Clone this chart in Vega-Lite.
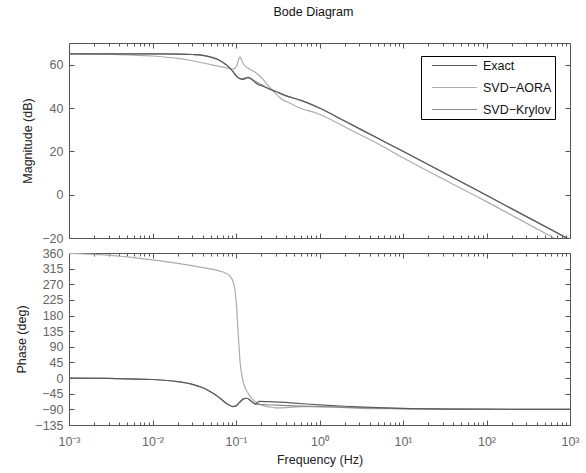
{
  "$schema": "https://vega.github.io/schema/vega-lite/v6.json",
  "background": "white",
  "padding": {"left": 15, "top": 6, "right": 5, "bottom": 5},
  "title": {"text": "Bode Diagram", "fontSize": 12.5, "fontWeight": "normal", "font": "Liberation Sans", "color": "#111", "anchor": "middle", "offset": 23.5, "dx": 16},
  "config": {
    "font": "Liberation Sans",
    "view": {"stroke": "#555", "strokeWidth": 1},
    "axis": {"grid": false, "domain": false, "labelFont": "Liberation Sans", "labelFontSize": 12.5, "labelColor": "#666", "titleFont": "Liberation Sans", "titleFontSize": 12.5, "titleFontWeight": "normal", "titleColor": "#222", "tickColor": "#555", "tickWidth": 1, "labelFlush": false, "labelOverlap": false}
  },
  "datasets": {
    "mag": [
      {"f": 0.001, "s": "SVD−AORA", "v": 65.0},
      {"f": 0.002, "s": "SVD−AORA", "v": 64.9},
      {"f": 0.005, "s": "SVD−AORA", "v": 64.5},
      {"f": 0.01, "s": "SVD−AORA", "v": 64.0},
      {"f": 0.02, "s": "SVD−AORA", "v": 62.9},
      {"f": 0.03, "s": "SVD−AORA", "v": 61.8},
      {"f": 0.05, "s": "SVD−AORA", "v": 60.0},
      {"f": 0.075, "s": "SVD−AORA", "v": 58.6},
      {"f": 0.09, "s": "SVD−AORA", "v": 58.0},
      {"f": 0.097, "s": "SVD−AORA", "v": 58.3},
      {"f": 0.103, "s": "SVD−AORA", "v": 60.0},
      {"f": 0.108, "s": "SVD−AORA", "v": 62.5},
      {"f": 0.112, "s": "SVD−AORA", "v": 63.6},
      {"f": 0.116, "s": "SVD−AORA", "v": 62.4},
      {"f": 0.122, "s": "SVD−AORA", "v": 60.5},
      {"f": 0.13, "s": "SVD−AORA", "v": 59.2},
      {"f": 0.145, "s": "SVD−AORA", "v": 58.0},
      {"f": 0.165, "s": "SVD−AORA", "v": 56.8},
      {"f": 0.19, "s": "SVD−AORA", "v": 55.0},
      {"f": 0.21, "s": "SVD−AORA", "v": 53.3},
      {"f": 0.24, "s": "SVD−AORA", "v": 50.5},
      {"f": 0.27, "s": "SVD−AORA", "v": 48.4},
      {"f": 0.3, "s": "SVD−AORA", "v": 46.5},
      {"f": 0.35, "s": "SVD−AORA", "v": 44.2},
      {"f": 0.44, "s": "SVD−AORA", "v": 42.3},
      {"f": 0.58, "s": "SVD−AORA", "v": 40.0},
      {"f": 0.93, "s": "SVD−AORA", "v": 37.6},
      {"f": 2.32, "s": "SVD−AORA", "v": 30.0},
      {"f": 5, "s": "SVD−AORA", "v": 23.5},
      {"f": 10, "s": "SVD−AORA", "v": 17.0},
      {"f": 100, "s": "SVD−AORA", "v": -3.2},
      {"f": 1000, "s": "SVD−AORA", "v": -24.0},
      {"f": 0.001, "s": "SVD−Krylov", "v": 65.0},
      {"f": 0.01, "s": "SVD−Krylov", "v": 65.0},
      {"f": 0.02, "s": "SVD−Krylov", "v": 64.9},
      {"f": 0.03, "s": "SVD−Krylov", "v": 64.7},
      {"f": 0.04, "s": "SVD−Krylov", "v": 64.3},
      {"f": 0.05, "s": "SVD−Krylov", "v": 63.5},
      {"f": 0.06, "s": "SVD−Krylov", "v": 62.5},
      {"f": 0.07, "s": "SVD−Krylov", "v": 61.0},
      {"f": 0.08, "s": "SVD−Krylov", "v": 59.3},
      {"f": 0.09, "s": "SVD−Krylov", "v": 57.2},
      {"f": 0.1, "s": "SVD−Krylov", "v": 55.0},
      {"f": 0.11, "s": "SVD−Krylov", "v": 53.6},
      {"f": 0.12, "s": "SVD−Krylov", "v": 53.5},
      {"f": 0.14, "s": "SVD−Krylov", "v": 54.3},
      {"f": 0.16, "s": "SVD−Krylov", "v": 53.0},
      {"f": 0.2, "s": "SVD−Krylov", "v": 50.8},
      {"f": 0.25, "s": "SVD−Krylov", "v": 48.8},
      {"f": 0.3, "s": "SVD−Krylov", "v": 47.6},
      {"f": 0.4, "s": "SVD−Krylov", "v": 45.6},
      {"f": 0.6, "s": "SVD−Krylov", "v": 43.5},
      {"f": 1, "s": "SVD−Krylov", "v": 40.0},
      {"f": 2, "s": "SVD−Krylov", "v": 34.0},
      {"f": 5, "s": "SVD−Krylov", "v": 26.0},
      {"f": 10, "s": "SVD−Krylov", "v": 20.0},
      {"f": 100, "s": "SVD−Krylov", "v": -0.3},
      {"f": 1000, "s": "SVD−Krylov", "v": -20.8},
      {"f": 0.001, "s": "Exact", "v": 65.0},
      {"f": 0.01, "s": "Exact", "v": 65.0},
      {"f": 0.02, "s": "Exact", "v": 64.9},
      {"f": 0.03, "s": "Exact", "v": 64.7},
      {"f": 0.04, "s": "Exact", "v": 64.3},
      {"f": 0.05, "s": "Exact", "v": 63.5},
      {"f": 0.06, "s": "Exact", "v": 62.5},
      {"f": 0.07, "s": "Exact", "v": 61.0},
      {"f": 0.08, "s": "Exact", "v": 59.3},
      {"f": 0.09, "s": "Exact", "v": 57.2},
      {"f": 0.1, "s": "Exact", "v": 55.0},
      {"f": 0.11, "s": "Exact", "v": 53.6},
      {"f": 0.12, "s": "Exact", "v": 53.2},
      {"f": 0.13, "s": "Exact", "v": 53.6},
      {"f": 0.14, "s": "Exact", "v": 53.9},
      {"f": 0.15, "s": "Exact", "v": 53.5},
      {"f": 0.165, "s": "Exact", "v": 52.2},
      {"f": 0.18, "s": "Exact", "v": 51.0},
      {"f": 0.2, "s": "Exact", "v": 50.4},
      {"f": 0.25, "s": "Exact", "v": 48.8},
      {"f": 0.3, "s": "Exact", "v": 47.6},
      {"f": 0.4, "s": "Exact", "v": 45.6},
      {"f": 0.6, "s": "Exact", "v": 43.5},
      {"f": 1, "s": "Exact", "v": 40.0},
      {"f": 2, "s": "Exact", "v": 34.0},
      {"f": 5, "s": "Exact", "v": 26.0},
      {"f": 10, "s": "Exact", "v": 20.0},
      {"f": 100, "s": "Exact", "v": -0.3},
      {"f": 1000, "s": "Exact", "v": -20.8}
    ],
    "phase": [
      {"f": 0.001, "s": "SVD−AORA", "v": 359},
      {"f": 0.002, "s": "SVD−AORA", "v": 356},
      {"f": 0.005, "s": "SVD−AORA", "v": 349},
      {"f": 0.01, "s": "SVD−AORA", "v": 340},
      {"f": 0.02, "s": "SVD−AORA", "v": 330},
      {"f": 0.04, "s": "SVD−AORA", "v": 318},
      {"f": 0.06, "s": "SVD−AORA", "v": 310},
      {"f": 0.075, "s": "SVD−AORA", "v": 302},
      {"f": 0.085, "s": "SVD−AORA", "v": 293},
      {"f": 0.092, "s": "SVD−AORA", "v": 278},
      {"f": 0.097, "s": "SVD−AORA", "v": 255},
      {"f": 0.101, "s": "SVD−AORA", "v": 215},
      {"f": 0.105, "s": "SVD−AORA", "v": 150},
      {"f": 0.108, "s": "SVD−AORA", "v": 100},
      {"f": 0.112, "s": "SVD−AORA", "v": 45},
      {"f": 0.118, "s": "SVD−AORA", "v": 5},
      {"f": 0.125, "s": "SVD−AORA", "v": -20},
      {"f": 0.135, "s": "SVD−AORA", "v": -38},
      {"f": 0.15, "s": "SVD−AORA", "v": -55},
      {"f": 0.17, "s": "SVD−AORA", "v": -68},
      {"f": 0.2, "s": "SVD−AORA", "v": -77},
      {"f": 0.25, "s": "SVD−AORA", "v": -83},
      {"f": 0.3, "s": "SVD−AORA", "v": -85.5},
      {"f": 0.4, "s": "SVD−AORA", "v": -85},
      {"f": 0.6, "s": "SVD−AORA", "v": -82},
      {"f": 1, "s": "SVD−AORA", "v": -82.5},
      {"f": 2, "s": "SVD−AORA", "v": -85},
      {"f": 3, "s": "SVD−AORA", "v": -87},
      {"f": 10, "s": "SVD−AORA", "v": -88.5},
      {"f": 100, "s": "SVD−AORA", "v": -89.6},
      {"f": 1000, "s": "SVD−AORA", "v": -90},
      {"f": 0.001, "s": "SVD−Krylov", "v": 0},
      {"f": 0.003, "s": "SVD−Krylov", "v": -1},
      {"f": 0.01, "s": "SVD−Krylov", "v": -4},
      {"f": 0.02, "s": "SVD−Krylov", "v": -10},
      {"f": 0.03, "s": "SVD−Krylov", "v": -18},
      {"f": 0.04, "s": "SVD−Krylov", "v": -28},
      {"f": 0.05, "s": "SVD−Krylov", "v": -40},
      {"f": 0.06, "s": "SVD−Krylov", "v": -52},
      {"f": 0.07, "s": "SVD−Krylov", "v": -65},
      {"f": 0.08, "s": "SVD−Krylov", "v": -76},
      {"f": 0.092, "s": "SVD−Krylov", "v": -82},
      {"f": 0.1, "s": "SVD−Krylov", "v": -80},
      {"f": 0.11, "s": "SVD−Krylov", "v": -70},
      {"f": 0.125, "s": "SVD−Krylov", "v": -59},
      {"f": 0.135, "s": "SVD−Krylov", "v": -58},
      {"f": 0.15, "s": "SVD−Krylov", "v": -65},
      {"f": 0.17, "s": "SVD−Krylov", "v": -75},
      {"f": 0.2, "s": "SVD−Krylov", "v": -76},
      {"f": 0.3, "s": "SVD−Krylov", "v": -78},
      {"f": 0.5, "s": "SVD−Krylov", "v": -80},
      {"f": 1, "s": "SVD−Krylov", "v": -82},
      {"f": 2, "s": "SVD−Krylov", "v": -84},
      {"f": 5, "s": "SVD−Krylov", "v": -86.5},
      {"f": 10, "s": "SVD−Krylov", "v": -88},
      {"f": 100, "s": "SVD−Krylov", "v": -89.6},
      {"f": 1000, "s": "SVD−Krylov", "v": -90},
      {"f": 0.001, "s": "Exact", "v": 0},
      {"f": 0.003, "s": "Exact", "v": -1},
      {"f": 0.01, "s": "Exact", "v": -4},
      {"f": 0.02, "s": "Exact", "v": -10},
      {"f": 0.03, "s": "Exact", "v": -18},
      {"f": 0.04, "s": "Exact", "v": -28},
      {"f": 0.05, "s": "Exact", "v": -40},
      {"f": 0.06, "s": "Exact", "v": -52},
      {"f": 0.07, "s": "Exact", "v": -65},
      {"f": 0.08, "s": "Exact", "v": -76},
      {"f": 0.092, "s": "Exact", "v": -82},
      {"f": 0.1, "s": "Exact", "v": -80},
      {"f": 0.11, "s": "Exact", "v": -70},
      {"f": 0.125, "s": "Exact", "v": -59},
      {"f": 0.135, "s": "Exact", "v": -58},
      {"f": 0.15, "s": "Exact", "v": -65},
      {"f": 0.17, "s": "Exact", "v": -74},
      {"f": 0.19, "s": "Exact", "v": -67},
      {"f": 0.25, "s": "Exact", "v": -68},
      {"f": 0.5, "s": "Exact", "v": -72},
      {"f": 1, "s": "Exact", "v": -77},
      {"f": 2, "s": "Exact", "v": -81},
      {"f": 5, "s": "Exact", "v": -85},
      {"f": 10, "s": "Exact", "v": -87},
      {"f": 100, "s": "Exact", "v": -89.5},
      {"f": 1000, "s": "Exact", "v": -90}
    ]
  },
  "spacing": 1,
  "resolve": {"legend": {"color": "independent"}},
  "vconcat": [
    {
      "width": 501,
      "height": 195,
      "data": {"name": "mag"},
      "resolve": {"axis": {"x": "independent", "y": "independent"}},
      "layer": [
        {
          "mark": {"type": "line", "strokeWidth": 1.2, "clip": true, "interpolate": "monotone"},
          "encoding": {
            "x": {"field": "f", "type": "quantitative", "scale": {"type": "log", "domain": [0.001, 1000]},
              "axis": {"orient": "bottom", "title": null, "labels": false,
                "values": [0.001,0.002,0.003,0.004,0.005,0.006,0.007,0.008,0.009,0.01,0.02,0.03,0.04,0.05,0.06,0.07,0.08,0.09,0.1,0.2,0.3,0.4,0.5,0.6,0.7,0.8,0.9,1,2,3,4,5,6,7,8,9,10,20,30,40,50,60,70,80,90,100,200,300,400,500,600,700,800,900,1000],
                "tickSize": {"condition": {"test": "indexof([0.001,0.01,0.1,1,10,100,1000], datum.value) >= 0", "value": -5}, "value": -3}}},
            "y": {"field": "v", "type": "quantitative", "scale": {"domain": [-20, 70], "nice": false, "zero": false},
              "axis": {"orient": "left", "values": [-20, 0, 20, 40, 60], "tickSize": -5, "labelPadding": 11, "title": "Magnitude (dB)", "titlePadding": 7}},
            "color": {"field": "s", "type": "nominal",
              "scale": {"domain": ["Exact", "SVD−AORA", "SVD−Krylov"], "range": ["#5c5c5c", "#acacac", "#8a8a8a"]},
              "legend": {"title": null, "orient": "none", "legendX": 352, "legendY": 13, "symbolType": "M-4,0H4", "symbolSize": 126.6, "symbolOffset": 24, "symbolStrokeWidth": 1.2, "labelFontSize": 12.5, "labelFont": "Liberation Sans", "labelColor": "#111", "labelOffset": 22, "strokeColor": "#000", "fillColor": "white", "padding": 3, "rowPadding": 9}}
          }
        },
        {
          "mark": {"type": "line", "opacity": 0, "clip": true},
          "encoding": {
            "x": {"field": "f", "type": "quantitative", "scale": {"type": "log", "domain": [0.001, 1000]},
              "axis": {"orient": "top", "title": null, "labels": false,
                "values": [0.001,0.002,0.003,0.004,0.005,0.006,0.007,0.008,0.009,0.01,0.02,0.03,0.04,0.05,0.06,0.07,0.08,0.09,0.1,0.2,0.3,0.4,0.5,0.6,0.7,0.8,0.9,1,2,3,4,5,6,7,8,9,10,20,30,40,50,60,70,80,90,100,200,300,400,500,600,700,800,900,1000],
                "tickSize": {"condition": {"test": "indexof([0.001,0.01,0.1,1,10,100,1000], datum.value) >= 0", "value": -5}, "value": -3}}},
            "y": {"field": "v", "type": "quantitative", "scale": {"domain": [-20, 70], "nice": false, "zero": false},
              "axis": {"orient": "right", "values": [-20, 0, 20, 40, 60], "tickSize": -5, "labels": false, "title": null}},
            "detail": {"field": "s"}
          }
        }
      ]
    },
    {
      "width": 501,
      "height": 172,
      "data": {"name": "phase"},
      "resolve": {"axis": {"x": "independent", "y": "independent"}},
      "layer": [
        {
          "mark": {"type": "line", "strokeWidth": 1.2, "clip": true, "interpolate": "monotone"},
          "encoding": {
            "x": {"field": "f", "type": "quantitative", "scale": {"type": "log", "domain": [0.001, 1000]},
              "axis": {"orient": "bottom", "title": "Frequency  (Hz)", "titlePadding": 4, "labelPadding": 15, "labelBaseline": "top",
                "labelExpr": "datum.value == 0.001 ? '10⁻³' : datum.value == 0.01 ? '10⁻²' : datum.value == 0.1 ? '10⁻¹' : datum.value == 1 ? '10⁰' : datum.value == 10 ? '10¹' : datum.value == 100 ? '10²' : datum.value == 1000 ? '10³' : ''",
                "values": [0.001,0.002,0.003,0.004,0.005,0.006,0.007,0.008,0.009,0.01,0.02,0.03,0.04,0.05,0.06,0.07,0.08,0.09,0.1,0.2,0.3,0.4,0.5,0.6,0.7,0.8,0.9,1,2,3,4,5,6,7,8,9,10,20,30,40,50,60,70,80,90,100,200,300,400,500,600,700,800,900,1000],
                "tickSize": {"condition": {"test": "indexof([0.001,0.01,0.1,1,10,100,1000], datum.value) >= 0", "value": -5}, "value": -3}}},
            "y": {"field": "v", "type": "quantitative", "scale": {"domain": [-135, 360], "nice": false, "zero": false},
              "axis": {"orient": "left", "values": [-135, -90, -45, 0, 45, 90, 135, 180, 225, 270, 315, 360], "tickSize": -5, "labelPadding": 11, "title": "Phase (deg)", "titlePadding": 6}},
            "color": {"field": "s", "type": "nominal",
              "scale": {"domain": ["Exact", "SVD−AORA", "SVD−Krylov"], "range": ["#5c5c5c", "#acacac", "#8a8a8a"]},
              "legend": null}
          }
        },
        {
          "mark": {"type": "line", "opacity": 0, "clip": true},
          "encoding": {
            "x": {"field": "f", "type": "quantitative", "scale": {"type": "log", "domain": [0.001, 1000]},
              "axis": {"orient": "top", "title": null, "labels": false,
                "values": [0.001,0.002,0.003,0.004,0.005,0.006,0.007,0.008,0.009,0.01,0.02,0.03,0.04,0.05,0.06,0.07,0.08,0.09,0.1,0.2,0.3,0.4,0.5,0.6,0.7,0.8,0.9,1,2,3,4,5,6,7,8,9,10,20,30,40,50,60,70,80,90,100,200,300,400,500,600,700,800,900,1000],
                "tickSize": {"condition": {"test": "indexof([0.001,0.01,0.1,1,10,100,1000], datum.value) >= 0", "value": -5}, "value": -3}}},
            "y": {"field": "v", "type": "quantitative", "scale": {"domain": [-135, 360], "nice": false, "zero": false},
              "axis": {"orient": "right", "values": [-135, -90, -45, 0, 45, 90, 135, 180, 225, 270, 315, 360], "tickSize": -5, "labels": false, "title": null}},
            "detail": {"field": "s"}
          }
        }
      ]
    }
  ]
}
